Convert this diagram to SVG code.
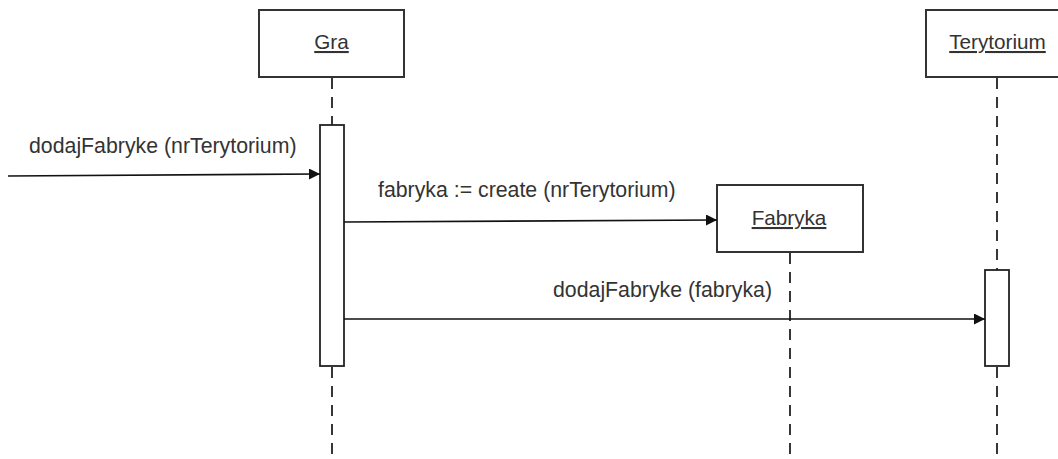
<svg xmlns="http://www.w3.org/2000/svg" width="1058" height="459" viewBox="0 0 1058 459">
<style>
  .box { fill: #ffffff; stroke: #333333; stroke-width: 2; }
  .act { fill: #ffffff; stroke: #222222; stroke-width: 1.8; }
  .life { stroke: #222222; stroke-width: 1.8; stroke-dasharray: 11 8; fill: none; }
  .msg { stroke: #111111; stroke-width: 1.7; fill: none; marker-end: url(#arr); }
  .lbl { font-family: "Liberation Sans", Arial, sans-serif; font-size: 21.3px; fill: #333333; }
  .name { font-family: "Liberation Sans", Arial, sans-serif; font-size: 20.7px; fill: #333333; text-anchor: middle; text-decoration: underline; }
</style>
<defs>
  <marker id="arr" viewBox="0 0 10 10" refX="10" refY="5" markerWidth="12" markerHeight="11" markerUnits="userSpaceOnUse" orient="auto">
    <path d="M0,0 L10,5 L0,10 Z" fill="#111111"/>
  </marker>
</defs>
<rect width="1058" height="459" fill="#ffffff"/>

<g id="lifelines">
  <line class="life" x1="332" y1="78" x2="332" y2="125"/>
  <line class="life" x1="332" y1="367" x2="332" y2="459"/>
  <line class="life" x1="790" y1="253" x2="790" y2="459"/>
  <line class="life" x1="997" y1="78" x2="997" y2="270"/>
  <line class="life" x1="997" y1="367" x2="997" y2="459"/>
</g>

<g id="node-gra">
  <rect class="box" x="259" y="10" width="145" height="67"/>
  <text class="name" x="331.5" y="49">Gra</text>
  <rect class="act" x="320" y="125" width="24" height="241"/>
</g>

<g id="node-terytorium">
  <rect class="box" x="926" y="10" width="142" height="67"/>
  <text class="name" x="997.5" y="49">Terytorium</text>
  <rect class="act" x="985" y="270" width="24" height="96"/>
</g>

<g id="node-fabryka">
  <rect class="box" x="717" y="185" width="146" height="67"/>
  <text class="name" x="789" y="225">Fabryka</text>
</g>

<g id="connectors">
  <line class="msg" x1="8" y1="176" x2="320" y2="174"/>
  <text class="lbl" x="29" y="153">dodajFabryke (nrTerytorium)</text>
  <line class="msg" x1="344" y1="222" x2="717" y2="220"/>
  <text class="lbl" x="378" y="197">fabryka := create (nrTerytorium)</text>
  <line class="msg" x1="344" y1="319" x2="985" y2="319"/>
  <text class="lbl" x="553" y="297">dodajFabryke (fabryka)</text>
</g>
</svg>
